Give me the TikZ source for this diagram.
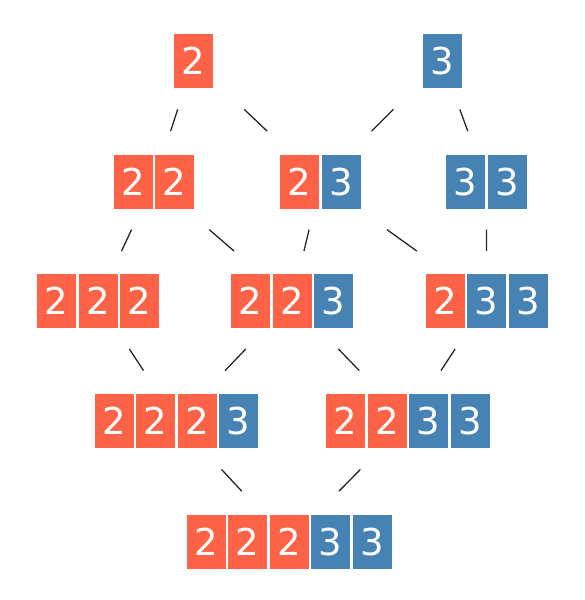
\documentclass[tikz,border=0pt]{standalone}
\usepackage{fontspec}
\setmainfont{DejaVu Sans}
\usetikzlibrary{calc,fit}
\definecolor{cred}{HTML}{FF6347}
\definecolor{cblue}{HTML}{4682B4}
\tikzset{
  cell/.style={minimum width=39pt, minimum height=54pt, inner sep=0pt, text=white,
    font=\fontsize{37}{37}\selectfont},
  grp/.style={inner sep=0pt},
  conn/.style={line width=1.3pt, draw=black!85},
}
\newcommand\mkgroup[5]{%
  \foreach \d [count=\i] in {#5} {%
    \ifnum\d=2 \def\fc{cred}\else\def\fc{cblue}\fi
    \node[cell, fill=\fc] (#1-\i) at ({#2 + (\i - (#4+1)/2)*41.5}, #3) {\d};
  }
  \node[grp, fit=(#1-1)(#1-#4)] (#1) {};
}
\newcommand\link[2]{\draw[conn] ($(#1)!0.4!(#2)$) -- ($(#1)!0.58!(#2)$);}
\begin{document}
\begin{tikzpicture}[x=1pt, y=-1pt]
  \useasboundingbox (0,0) rectangle (584,600);
  \mkgroup{g2}{193.5}{61}{1}{2}
  \mkgroup{g3}{442}{61}{1}{3}
  \mkgroup{g22}{154}{182}{2}{2,2}
  \mkgroup{g23}{320.5}{182}{2}{2,3}
  \mkgroup{g33}{486.5}{182}{2}{3,3}
  \mkgroup{g222}{98}{301}{3}{2,2,2}
  \mkgroup{g223}{292}{301}{3}{2,2,3}
  \mkgroup{g233}{486.5}{301}{3}{2,3,3}
  \mkgroup{g2223}{176.5}{421}{4}{2,2,2,3}
  \mkgroup{g2233}{408}{421}{4}{2,2,3,3}
  \mkgroup{g22233}{289}{542}{5}{2,2,2,3,3}
  \link{g2}{g22}
  \link{g2}{g23}
  \link{g3}{g23}
  \link{g3}{g33}
  \link{g22}{g222}
  \link{g22}{g223}
  \link{g23}{g223}
  \link{g23}{g233}
  \link{g33}{g233}
  \link{g222}{g2223}
  \link{g223}{g2223}
  \link{g223}{g2233}
  \link{g233}{g2233}
  \link{g2223}{g22233}
  \link{g2233}{g22233}
\end{tikzpicture}
\end{document}
